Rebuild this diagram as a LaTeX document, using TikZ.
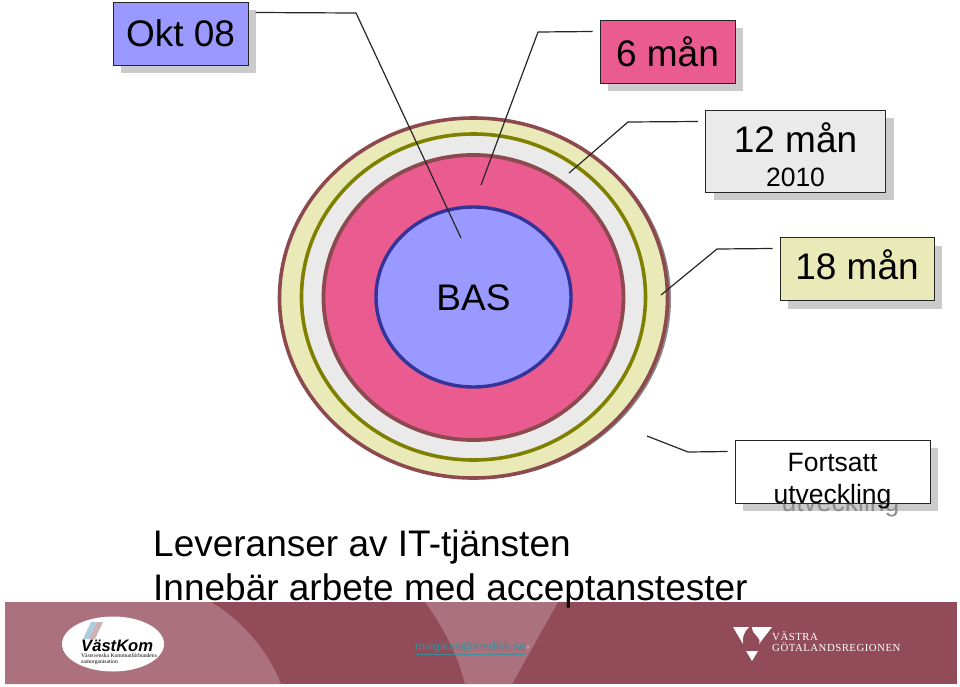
\documentclass[tikz,border=0pt]{standalone}
\usepackage{xcolor}
\usepackage{fontspec}
\setmainfont{Liberation Sans}
\newfontfamily\serifface{Liberation Serif}
\newfontfamily\regionface[LetterSpace=4.6]{Liberation Serif}
\usetikzlibrary{positioning, calc}
\definecolor{basblue}{HTML}{9999FF}
\definecolor{bluerim}{HTML}{333399}
\definecolor{sixpink}{HTML}{EA5B8F}
\definecolor{wine}{HTML}{8C4A4F}
\definecolor{twelvegrey}{HTML}{EAEAEA}
\definecolor{olive}{HTML}{808000}
\definecolor{eighteenyellow}{HTML}{EAEAB8}
\definecolor{shadowgrey}{HTML}{CBCBCB}
\definecolor{footdark}{HTML}{924B58}
\definecolor{footlight}{HTML}{AC717F}
\definecolor{linkteal}{HTML}{3D8C94}
\definecolor{stripeblue}{HTML}{AFCBE0}
\definecolor{striperose}{HTML}{CDB3B3}
\tikzset{
  stagebox/.style={rectangle, draw=black!85, line width=1pt, align=center, inner sep=0pt},
  stageshadow/.style={rectangle, fill=shadowgrey, inner sep=0pt},
  leader/.style={line width=1.2pt, black!85},
  bigtext/.style={font=\fontsize{37}{37}\selectfont},
  midtext/.style={font=\fontsize{26.5}{32}\selectfont, align=center},
}

\begin{document}
\begin{tikzpicture}[x=1pt, y=-1pt]
  \useasboundingbox (0,0) rectangle (960,686);

  % Rings
  \fill[black!45] (476.5,299) ellipse [x radius=194.5, y radius=180];
  \draw[wine, line width=3.6pt, fill=eighteenyellow] (473.5,298) ellipse [x radius=194, y radius=180];
  \draw[olive, line width=3.6pt, fill=twelvegrey] (473.5,297) ellipse [x radius=172, y radius=163];
  \draw[wine, line width=3.8pt, fill=sixpink] (473.5,297.5) ellipse [x radius=150, y radius=142.5];
  \draw[bluerim, line width=3.4pt, fill=basblue] (473.5,297) ellipse [x radius=97.5, y radius=90];
  \node[bigtext] (bas) at (473.5,298) {BAS};

  % Shadows
  \node[stageshadow, minimum width=135pt, minimum height=63pt] at (188.5,41.5) {};
  \node[stageshadow, minimum width=135pt, minimum height=63pt] at (675.5,59.5) {};
  \node[stageshadow, minimum width=180pt, minimum height=82pt] at (803.5,159) {};
  \node[stageshadow, minimum width=154pt, minimum height=63pt] at (865,277) {};
  \node[stageshadow, minimum width=195pt, minimum height=63pt] at (840.5,479.5) {};
  \node[midtext, text=black!45] at (840.5,505) {utveckling};

  % Boxes
  \node[stagebox, fill=basblue, minimum width=135pt, minimum height=63pt, bigtext] (okt) at (180.5,33.5) {Okt 08};
  \node[stagebox, fill=sixpink, minimum width=135pt, minimum height=63pt, bigtext] (six) at (667.5,51.5) {6 mån};
  \node[stagebox, fill=twelvegrey, minimum width=180pt, minimum height=82pt] (twelve) at (795.5,151) {};
  \node[bigtext] (twelvetxt) at (795.5,137.5) {12 mån};
  \node[midtext] (year) at (795.5,177.5) {2010};
  \node[stagebox, fill=eighteenyellow, minimum width=154pt, minimum height=63pt] (eighteen) at (857,269) {};
  \node[bigtext] (eighteentxt) at (857,265) {18 mån};
  \node[stagebox, fill=white, minimum width=195pt, minimum height=63pt] (cont) at (832.5,471.5) {};
  \node[midtext] (conttxt) at (832.5,481) {Fortsatt\\utveckling};

  % Leaders
  \coordinate (oktbend) at (356,13);
  \coordinate (oktend) at (461,238);
  \coordinate (sixbend) at (538,32);
  \coordinate (sixend) at (481,185);
  \coordinate (twelvebend) at (628,122);
  \coordinate (twelveend) at (569,173);
  \coordinate (eighteenbend) at (717,249);
  \coordinate (eighteenend) at (661,295);
  \coordinate (contbend) at (688,452);
  \coordinate (contend) at (647,436);
  \draw[leader] ([xshift=7pt, yshift=-11pt]okt.north east) -- (oktbend) -- (oktend);
  \draw[leader] ([xshift=-7pt, yshift=-12pt]six.north west) -- (sixbend) -- (sixend);
  \draw[leader] ([xshift=-7pt, yshift=-12pt]twelve.north west) -- (twelvebend) -- (twelveend);
  \draw[leader] ([xshift=-7pt, yshift=-11.5pt]eighteen.north west) -- (eighteenbend) -- (eighteenend);
  \draw[leader] ([xshift=-7pt, yshift=-12pt]cont.north west) -- (contbend) -- (contend);

  % Footer
  \fill[footdark] (5,602) rectangle (957,684);
  \fill[footlight] (5,602) -- (211,602) .. controls (245,622) and (270,655) .. (281,684) -- (5,684) -- cycle;
  \fill[footlight] (425,602) .. controls (442,625) and (458,655) .. (465,684) -- (512,684) -- (558,602) -- cycle;
  \node[inner sep=0pt, text=linkteal, font=\fontsize{11.8}{12}\selectfont] (mail) at (470.5,648) {\underline{mvigikas@meditik.se}};
  \node[inner sep=0pt, text=white!80!footlight, font=\fontsize{12}{12}\selectfont, right=0pt of mail] (comma) {,};

  % Caption
  \node[bigtext, inner sep=0pt, anchor=base west] (line1) at (153,556) {Leveranser av IT-tjänsten};
  \node[bigtext, inner sep=0pt, anchor=base west] (line2) at (153,600) {Innebär arbete med acceptanstester};

  % VastKom logo
  \fill[white] (113,644) ellipse [x radius=51, y radius=27.5];
  \fill[stripeblue] (91,622) -- (97,622) -- (89,639) -- (83,639) -- cycle;
  \fill[striperose] (97,622) -- (103,622) -- (95,639) -- (89,639) -- cycle;
  \node[inner sep=0pt, anchor=base west, font=\fontsize{16.6}{17}\selectfont\bfseries\itshape] (vast) at (81,651) {VästKom};
  \node[inner sep=0pt, anchor=north west, align=left, font=\fontsize{5.6}{6}\selectfont\serifface] (vastsub) at (81,653) {Västsvenska Kommunförbundens\\samorganisation};

  % Region logo
  \fill[white] (733,627) -- (749,627) .. controls (744,632) and (742,637) .. (743,644) -- cycle;
  \fill[white] (752,627) .. controls (762,627) and (766,627) .. (772,627) -- (759,644) .. controls (762,636) and (752,636) .. (752,627) -- cycle;
  \fill[white] (746,651) -- (758,651) -- (752,661) -- cycle;
  \node[inner sep=0pt, anchor=base west, text=white, font=\fontsize{10.8}{12}\selectfont\regionface] (vastra) at (772,640.5) {VÄSTRA};
  \node[inner sep=0pt, anchor=base west, text=white, font=\fontsize{10.8}{12}\selectfont\regionface] (region) at (772,651.5) {GÖTALANDSREGIONEN};
\end{tikzpicture}
\end{document}
